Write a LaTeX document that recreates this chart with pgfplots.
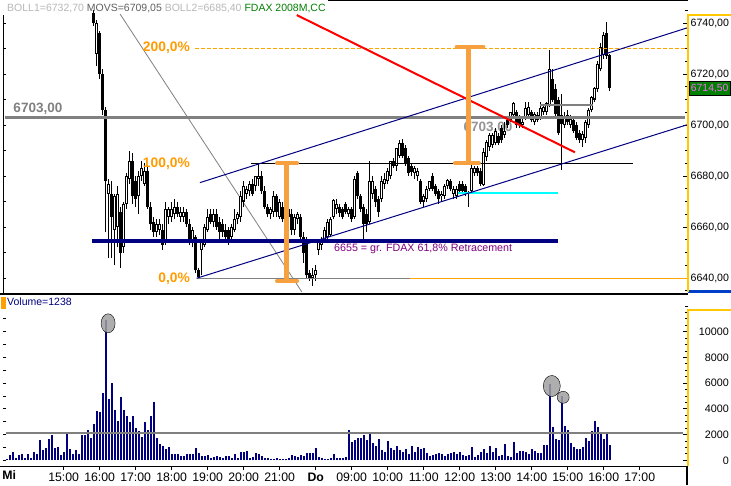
\documentclass[border=0pt]{standalone}
\usepackage{fontspec}
\setmainfont{Liberation Sans}
\usepackage{pgfplots}
\usepackage{pgfplotstable}
\pgfplotsset{compat=1.18}
\pgfplotsset{every axis/.append style={scaled y ticks=false, scaled x ticks=false}}
\definecolor{navy}{HTML}{000080}
\definecolor{obeam}{HTML}{F7A040}
\definecolor{olab}{HTML}{FF9C00}
\definecolor{odash}{HTML}{FFA500}
\definecolor{gline}{HTML}{808080}
\definecolor{glab}{HTML}{959595}
\definecolor{cyanl}{HTML}{00FFFF}
\definecolor{purp}{HTML}{800080}
\definecolor{yax}{HTML}{FFC800}
\definecolor{tagg}{HTML}{008000}
\definecolor{tagt}{HTML}{FF66FF}
\definecolor{boll}{HTML}{B8B8B8}
\definecolor{movs}{HTML}{606060}
\definecolor{fdax}{HTML}{008000}
\definecolor{ellg}{HTML}{A0A0A0}
\definecolor{volo}{HTML}{FFA000}
\definecolor{rblue}{HTML}{0040C8}

\pgfplotstableread{
i O H L C
29 6744 6745 6739 6740
30 6728 6741 6723 6740
31 6736 6737 6718 6720
32 6720 6722 6704 6706
33 6706 6707 6658 6678
34 6673 6679 6648 6677
35 6673 6678 6648 6664
36 6659 6673 6645 6672
37 6660 6676 6652 6673
38 6666 6668 6644 6650
39 6652 6670 6650 6669
40 6669 6681 6667 6680
41 6679 6690 6677 6686
42 6686 6689 6669 6672
43 6678 6680 6668 6671
44 6672 6682 6665 6680
45 6680 6686 6678 6683
46 6677 6685 6676 6682
47 6682 6684 6667 6668
48 6668 6670 6659 6661
49 6662 6664 6656 6658
50 6658 6663 6656 6661
51 6659 6663 6657 6661
52 6659 6661 6651 6653
53 6655 6670 6653 6667
54 6664 6668 6661 6667
55 6664 6670 6662 6667
56 6665 6671 6663 6668
57 6668 6670 6664 6665
58 6664 6668 6662 6666
59 6664 6668 6662 6666
60 6666 6667 6660 6661
61 6661 6663 6653 6655
62 6654 6660 6652 6659
63 6656 6657 6642 6643
64 6643 6644 6639.5 6640.5
65 6651 6655 6641 6654
66 6653 6661 6652 6660
67 6659 6667 6658 6664
68 6665 6667 6661 6662
69 6662 6667 6660 6665
70 6665 6667 6659 6660
71 6662 6664 6655 6658
72 6661 6663 6656 6658
73 6659 6661 6654 6656
74 6659 6660 6653 6655
75 6656 6661 6654 6660
76 6659 6667 6658 6663
77 6663 6666 6661 6665
78 6664 6674 6662 6672
79 6670 6678 6668 6676
80 6673 6676 6671 6675
81 6674 6678 6672 6677
82 6677 6679 6672 6673
83 6676 6680 6674 6680
84 6679 6685 6676 6680
85 6680 6682 6673 6674
86 6674 6676 6667 6668
87 6668 6669 6664 6665
88 6665 6668 6663 6667
89 6666 6674 6664 6672
90 6672 6673 6664 6666
91 6664 6671 6663 6670
92 6668 6670 6662 6663
93 6665 6669 6663 6667
94 6667 6668 6662 6664
95 6665 6667 6657 6659
96 6659 6665 6657 6664
97 6663 6666 6661 6665
98 6664 6665 6654 6656
99 6656 6658 6646 6650
100 6654 6656 6640 6641
101 6642 6643 6639 6640
102 6640 6644 6637 6641
103 6641 6645 6639 6643
104 6651 6655 6649 6654
105 6653 6656 6651 6655
106 6655 6660 6654 6659
107 6656 6663 6655 6662
108 6657 6664 6656 6663
109 6664 6671 6663 6670.5
110 6667 6671 6665 6669
111 6668 6669 6664 6665.5
112 6667 6668 6663 6664
113 6669 6670 6665 6666
114 6665 6668 6664 6667
115 6667 6668 6662 6663
116 6664 6680 6663 6679
117 6681 6682 6671 6672
118 6672 6673 6666 6667
119 6668 6669 6655 6661
120 6665 6667 6658 6661
121 6662 6686 6661 6678
122 6673 6680 6671 6678
123 6675 6676 6668 6670
124 6671 6672 6664 6666
125 6671 6680 6670 6678
126 6677 6681 6675 6679
127 6678 6683 6677 6682
128 6680 6686 6679 6686
129 6686 6687 6683 6684
130 6684 6691 6682 6691
131 6688 6694 6687 6693
132 6693 6694.5 6687 6688
133 6691 6692 6684 6685
134 6687 6688 6680 6681
135 6684 6685 6680 6681.5
136 6681 6684 6679 6683
137 6680 6683 6678 6682
138 6678 6679 6669 6670
139 6670 6673 6668 6672
140 6671 6676 6670 6675
141 6675 6678 6674 6678
142 6680 6681 6674 6675
143 6676 6677 6672 6673
144 6674 6675 6669 6671
145 6672 6674 6670 6673
146 6672 6677 6671 6676
147 6676 6679 6675 6678.5
148 6678 6679 6674 6675
149 6673 6676 6671 6675
150 6672 6676 6671 6675
151 6677 6678 6673 6674
152 6677 6678 6673 6674
153 6676 6677 6672 6673
154 6673 6674 6668 6673.5
155 6674 6686 6673 6683
156 6681 6684 6680 6683
157 6683 6684 6680 6681
158 6682 6683 6676 6677
159 6676.5 6691 6676 6689.5
160 6687.5 6694 6686 6693.5
161 6691.5 6697 6690 6696
162 6692 6697 6691 6696
163 6693 6699 6692 6697.5
164 6695.5 6697 6692 6693
165 6699 6700 6693 6694
166 6696 6701 6695 6697.5
167 6702 6703 6699 6700
168 6702 6705 6701 6705
169 6704 6709 6703 6708.5
170 6705 6706 6699 6700
171 6703 6704 6699 6700
172 6700 6703 6699 6701
173 6703 6709 6702 6706.5
174 6704 6709 6703 6707
175 6705 6706 6701 6702
176 6701 6705 6700 6704.5
177 6704 6705 6701 6702
178 6703 6709 6702 6706.5
179 6705 6708 6704 6707
180 6705 6709 6704 6708.5
181 6708 6729.5 6707 6722
182 6718 6722 6709 6710
183 6714 6716 6703 6704.5
184 6710 6711 6696 6697
185 6704 6712 6682.5 6700.5
186 6700 6705 6699 6703
187 6704 6706 6700 6701
188 6700 6704 6699 6702.5
189 6702 6703 6697 6697.5
190 6700 6701 6694 6695
191 6697 6698 6693 6694
192 6694 6697.5 6691.5 6696.5
193 6695 6702 6693 6701
194 6700 6706.5 6699 6706
195 6706 6711.5 6705 6711
196 6710 6715 6709 6714.4
197 6714 6725 6713 6724
198 6722 6732 6721 6730.7
199 6727.5 6736.6 6726 6735.3
200 6736 6740.4 6726 6727
201 6727.5 6728 6713.5 6714.5
}\candles

\pgfplotstableread{
i V
0 104
1 442
2 650
3 208
4 442
5 494
6 208
7 494
8 208
9 650
10 494
11 1586
12 806
13 988
14 1664
15 1976
16 988
17 1040
18 442
19 650
20 2080
21 884
22 494
23 806
24 494
25 1976
26 1976
27 2366
28 1742
29 2860
30 3848
31 3744
32 5252
33 10946
34 4784
35 6032
36 3926
37 3068
38 4940
39 3926
40 3406
41 2964
42 3458
43 2548
44 2288
45 1846
46 2990
47 2366
48 3458
49 4550
50 1768
51 1274
52 1092
53 884
54 1066
55 468
56 494
57 494
58 364
59 338
60 494
61 494
62 494
63 988
64 598
65 364
66 364
67 442
68 208
69 286
70 364
71 286
72 208
73 364
74 364
75 208
76 494
77 208
78 650
79 650
80 754
81 208
82 286
83 546
84 494
85 364
86 208
87 208
88 130
89 130
90 208
91 130
92 78
93 130
94 208
95 442
96 364
97 286
98 442
99 364
100 572
101 572
102 572
103 988
104 286
105 208
106 130
107 130
108 208
109 494
110 208
111 208
112 208
113 286
114 2366
115 1456
116 1586
117 1700
118 1768
119 1976
120 1586
121 2054
122 1378
123 1144
124 1664
125 806
126 676
127 1534
128 988
129 806
130 1144
131 806
132 676
133 884
134 494
135 1144
136 676
137 1066
138 884
139 988
140 546
141 364
142 442
143 494
144 598
145 494
146 364
147 494
148 598
149 676
150 494
151 676
152 442
153 364
154 442
155 1066
156 286
157 442
158 676
159 884
160 598
161 1144
162 676
163 988
164 364
165 442
166 1274
167 364
168 286
169 1456
170 598
171 754
172 754
173 676
174 494
175 858
176 754
177 546
178 598
179 1196
180 1196
181 5954
182 2574
183 1664
184 1586
185 5018
186 2678
187 2366
188 1326
189 1066
190 884
191 858
192 1066
193 1768
194 1508
195 2288
196 3068
197 2626
198 2158
199 1664
200 2106
201 1196
}\vol

\begin{document}
\begin{tikzpicture}
\useasboundingbox (0pt,0pt) rectangle (731pt,485pt);
\fill[white] (0pt,0pt) rectangle (731pt,485pt);

% ---------- price panel: left ticks ----------
\begin{axis}[at={(3pt,192pt)}, anchor=south west, scale only axis,
  width=685pt, height=293pt,
  xmin=-1.233, xmax=227.1, ymin=6634.12, ymax=6749.02,
  axis line style={draw=none}, xtick=\empty,
  ytick={6640,6650,...,6740}, yticklabels={},
  ytick pos=left, tick align=inside, major tick length=3pt,
  tick style={black, line width=0.8pt}]
\end{axis}

% ---------- price panel: main ----------
\begin{axis}[at={(3pt,192pt)}, anchor=south west, scale only axis,
  width=685pt, height=293pt,
  xmin=-1.233, xmax=227.1, ymin=6634.12, ymax=6749.02,
  clip mode=individual,
  axis line style={draw=none}, xtick=\empty,
  ytick={6640,6660,6680,6700,6720,6740},
  yticklabels={{6640,00},{6660,00},{6680,00},{6700,00},{6720,00},{6740,00}},
  minor ytick={6635,6640,...,6745},
  ytick pos=right, yticklabel pos=right,
  tick align=inside, major tick length=5pt, minor tick length=3pt,
  tick style={black, line width=0.8pt},
  yticklabel style={font=\fontsize{10.6}{12}\selectfont, anchor=west, inner sep=0pt, xshift=2.5pt}]

\node[text=glab, font=\fontsize{13.5}{14}\selectfont\bfseries] at (axis cs:160.4,6698.8) {6703,00};

% gray diagonal
\addplot[gline, line width=0.8pt] coordinates {(37.8,6743.5) (98.4,6634.5)};

% candles: wicks
\addplot[draw=none, mark=none, error bars/.cd, y dir=plus, y explicit, error mark=none,
  error bar style={draw=black, line width=1pt}]
  table[x=i, y=L, y error plus expr={\thisrow{H}-\thisrow{L}}] {\candles};
% bodies
\addplot[draw=none, mark=none, error bars/.cd, y dir=plus, y explicit, error mark=none,
  error bar style={draw=black, line width=3pt}]
  table[x=i, y expr={min(\thisrow{O},\thisrow{C})}, y error plus expr={max(abs(\thisrow{C}-\thisrow{O}),0.45)}] {\candles};
% white interiors
\addplot[draw=none, mark=none, error bars/.cd, y dir=plus, y explicit, error mark=none,
  error bar style={draw=white, line width=1.2pt}]
  table[x=i, y expr={\thisrow{O}+0.4}, y error plus expr={max(\thisrow{C}-\thisrow{O}-0.8,0)}] {\candles};

% horizontal levels
\addplot[gline, line width=2.3pt] coordinates {(-0.6,6703) (226.1,6703)};
\addplot[gline, line width=2pt] coordinates {(177.8,6707.8) (195.5,6707.8)};
\addplot[odash, line width=1pt, dash pattern=on 4pt off 2pt] coordinates {(62.8,6730.1) (227.1,6730.1)};
\addplot[black, line width=1pt] coordinates {(81.4,6685.0) (208.9,6685.0)};
\addplot[gline, line width=1pt] coordinates {(63.3,6639.8) (134.4,6639.8)};
\addplot[odash, line width=1pt] coordinates {(134.4,6639.8) (227.1,6639.8)};
\addplot[navy, line width=3.7pt] coordinates {(28.3,6654.5) (183.9,6654.5)};
\addplot[cyanl, line width=2pt] coordinates {(150.5,6673.5) (183.8,6673.5)};
% channel
\addplot[navy, line width=1pt] coordinates {(64.4,6677.4) (227.1,6738.2)};
\addplot[navy, line width=1pt] coordinates {(63.3,6639.9) (227.1,6700.2)};
% red trend line
\addplot[red, line width=2pt] coordinates {(96.7,6743.1) (189.4,6689.3)};
% I-beams
\addplot[obeam, line width=5pt] coordinates {(93.3,6685) (93.3,6638.9)};
\addplot[obeam, line width=4pt, line cap=round] coordinates {(90.1,6685) (96.8,6685)};
\addplot[obeam, line width=4pt, line cap=round] coordinates {(90.1,6638.9) (96.8,6638.9)};
\addplot[obeam, line width=5pt] coordinates {(153.9,6730.7) (153.9,6685)};
\addplot[obeam, line width=4pt, line cap=round] coordinates {(150.0,6730.7) (158.9,6730.7)};
\addplot[obeam, line width=4pt, line cap=round] coordinates {(149.4,6685) (157.4,6685)};

% labels
\node[anchor=east, inner sep=0pt, text=olab, font=\fontsize{13.8}{14}\selectfont\bfseries] at (axis cs:61.1,6730.1) {200,0\%};
\node[anchor=east, inner sep=0pt, text=olab, font=\fontsize{13.8}{14}\selectfont\bfseries] at (axis cs:61.1,6685.0) {100,0\%};
\node[anchor=east, inner sep=0pt, text=olab, font=\fontsize{13.8}{14}\selectfont\bfseries] at (axis cs:61.1,6639.8) {0,0\%};
\node[anchor=west, inner sep=0pt, text=gline, font=\fontsize{13.5}{14}\selectfont\bfseries] at (axis cs:2.2,6706.4) {6703,00};
\node[anchor=west, inner sep=0pt, text=purp, font=\fontsize{10.7}{12}\selectfont] at (axis cs:109.1,6651.4) {6655 = gr. FDAX 61,8\% Retracement};
\end{axis}

% ---------- volume panel: left ticks ----------
\begin{axis}[at={(3pt,18pt)}, anchor=south west, scale only axis,
  width=685pt, height=174pt,
  xmin=-1.233, xmax=227.1, ymin=-521, ymax=13009,
  axis line style={draw=none}, xtick=\empty,
  ytick={0,1000,...,12000}, yticklabels={},
  ytick pos=left, tick align=inside, major tick length=3pt,
  tick style={black, line width=0.8pt}]
\end{axis}

% ---------- volume panel: right ticks ----------
\begin{axis}[at={(3pt,18pt)}, anchor=south west, scale only axis,
  width=685pt, height=174pt,
  xmin=-1.233, xmax=227.1, ymin=-521, ymax=13009,
  axis line style={draw=none}, xtick=\empty,
  ytick={0,2000,...,10000},
  yticklabels={0,2000,4000,6000,8000,10000},
  minor ytick={0,500,...,12000},
  ytick pos=right, yticklabel pos=right,
  tick align=inside, major tick length=5pt, minor tick length=3pt,
  tick style={black, line width=0.8pt},
  yticklabel style={font=\fontsize{10.8}{12}\selectfont, anchor=east, inner sep=0pt, xshift=41pt}]
\end{axis}

% ---------- volume panel: main ----------
\begin{axis}[at={(3pt,18pt)}, anchor=south west, scale only axis,
  width=685pt, height=174pt,
  xmin=-1.233, xmax=227.1, ymin=-521, ymax=13009,
  clip mode=individual,
  axis line style={draw=none}, ytick=\empty,
  xtick={19,31,43,55,67,79,91,103,115,127,139,151,163,175,187,199,211},
  xticklabels={15:00,16:00,17:00,18:00,19:00,20:00,21:00,\textbf{Do},09:00,10:00,11:00,12:00,13:00,14:00,15:00,16:00,17:00},
  extra x ticks={0.8}, extra x tick labels={\textbf{Mi}},
  extra x tick style={major tick length=0pt},
  xtick pos=left, tick align=outside, major tick length=3pt,
  tick style={black, line width=0.8pt},
  xticklabel style={font=\fontsize{12.3}{14}\selectfont, inner sep=0pt, anchor=north, yshift=-3pt}]
\addplot[ycomb, navy, line width=2pt, mark=none] table[x=i, y=V] {\vol};
\addplot[gline, line width=2.3pt] coordinates {(-0.2,2150) (225.5,2150)};
\addplot[only marks, mark=*, mark size=7pt, mark options={fill=ellg, draw=none, fill opacity=0.85, yscale=1.36}] coordinates {(33.8,10653)};
\addplot[only marks, mark=*, mark size=8.5pt, mark options={fill=ellg, draw=none, fill opacity=0.85, yscale=1.24}] coordinates {(181.7,5778)};
\addplot[only marks, mark=*, mark size=6pt, mark options={fill=ellg, draw=none, fill opacity=0.85}] coordinates {(185.5,4899)};
\end{axis}

% ---------- frame pieces ----------
\draw[black, line width=1.5pt] (328pt,484.3pt) -- (688pt,484.3pt);
\draw[black, line width=1pt] (3pt,192pt) -- (3pt,470pt);
\draw[black, line width=2.3pt] (0pt,191.2pt) -- (688pt,191.2pt);
\draw[rblue, line width=3pt] (688pt,193.5pt) -- (731pt,193.5pt);
\draw[black, line width=1.5pt] (0pt,18.3pt) -- (688pt,18.3pt);
\draw[black, line width=1.3pt] (687pt,18.3pt) -- (687pt,0pt);
\draw[yax, line width=1.3pt] (731pt,470pt) -- (688pt,470pt) -- (688pt,192.5pt);
\draw[yax, line width=1.3pt] (731pt,175pt) -- (688pt,175pt) -- (688pt,19pt);

% header
\node[anchor=base west, inner sep=0pt, font=\fontsize{10.5}{12}\selectfont] at (7pt,473.5pt)
 {\textcolor{boll}{BOLL1=6732,70} \textcolor{movs}{MOVS=6709,05} \textcolor{boll}{BOLL2=6685,40} \textcolor{fdax}{FDAX 2008M,CC}};
% price tag
\node[fill=tagg, draw=black, text=tagt, inner sep=0pt, minimum width=41pt, minimum height=14pt,
  font=\fontsize{10.4}{12}\selectfont] at (709.7pt,396.3pt) {6714,50};
% volume label
\fill[volo] (0.5pt,176pt) rectangle (6pt,188pt);
\node[anchor=base west, inner sep=0pt, text=navy, font=\fontsize{10.5}{12}\selectfont] at (7pt,179.2pt) {Volume=1238};
\end{tikzpicture}
\end{document}
